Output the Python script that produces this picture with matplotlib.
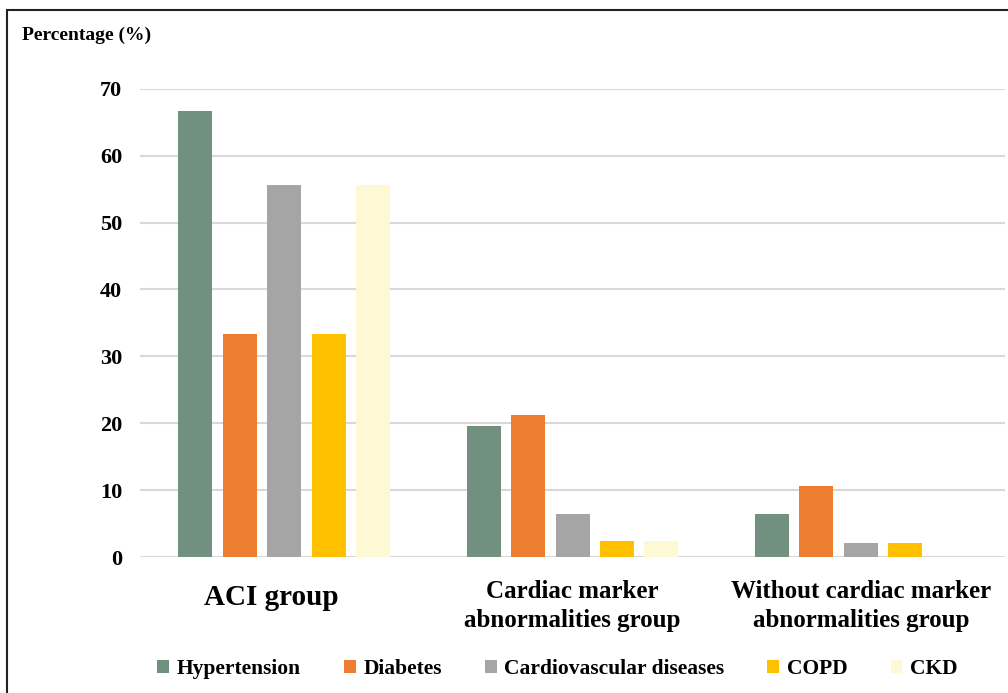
import matplotlib.pyplot as plt
from matplotlib.patches import Rectangle
import numpy as np

plt.rcParams['font.family'] = ['Liberation Serif', 'DejaVu Serif']
plt.rcParams['font.weight'] = 'bold'

groups = ['ACI group', 'Cardiac marker\nabnormalities group', 'Without cardiac marker\nabnormalities group']
diseases = ['Hypertension', 'Diabetes', 'Cardiovascular diseases', 'COPD', 'CKD']
hypertension = [66.7, 19.6, 6.4]
diabetes = [33.3, 21.3, 10.6]
cardiovascular = [55.6, 6.4, 2.1]
copd = [33.3, 2.4, 2.1]
ckd = [55.6, 2.4, 0.0]
series = [hypertension, diabetes, cardiovascular, copd, ckd]
colors = ['#72907f', '#ed7d31', '#a5a5a5', '#ffc000', '#fff8d5']

fig = plt.figure(figsize=(10.08, 6.93), dpi=100)
ax = fig.add_axes([0.139, 0.196, 0.858, 0.676])

x = np.arange(len(groups))
step = 0.154
width = 0.118
for i, (vals, name, c) in enumerate(zip(series, diseases, colors)):
    ax.bar(x + (i - 2) * step, vals, width, color=c, label=name, zorder=3)

ax.set_xlim(-0.5, 2.5)
ax.set_ylim(0, 70)
ax.set_yticks(range(0, 80, 10))
ax.grid(axis='y', color='#d9d9d9', linewidth=1.5, zorder=0)
for s in ax.spines.values():
    s.set_visible(False)
ax.tick_params(axis='y', length=0, pad=13, labelsize=16)
ax.set_xticks([])

# category labels (ACI label sits a little left of its cluster centre)
trans = ax.get_xaxis_transform()
ax.text(x[0] - 0.045, -0.0855, groups[0], transform=trans, ha='center', va='center', fontsize=21)
for xi, lab in zip(x[1:], groups[1:]):
    ax.text(xi, -0.1045, lab, transform=trans, ha='center', va='center', fontsize=18,
            linespacing=1.35)

fig.text(22 / 1008, 1 - 35 / 693, 'Percentage (%)', fontsize=14, va='center', ha='left')

leg = fig.legend(loc='center', bbox_to_anchor=(0.553, 1 - 669 / 693), ncol=5, frameon=False,
                 fontsize=15.5, handlelength=0.55, handleheight=0.55, handletextpad=0.35,
                 columnspacing=2.0)

fig.patches.append(Rectangle((7 / 1008, -0.01), 1.02, 1 - 10 / 693 + 0.01, transform=fig.transFigure,
                             fill=False, edgecolor='#222222', linewidth=1.5))

fig.savefig('out.png', dpi=100)
